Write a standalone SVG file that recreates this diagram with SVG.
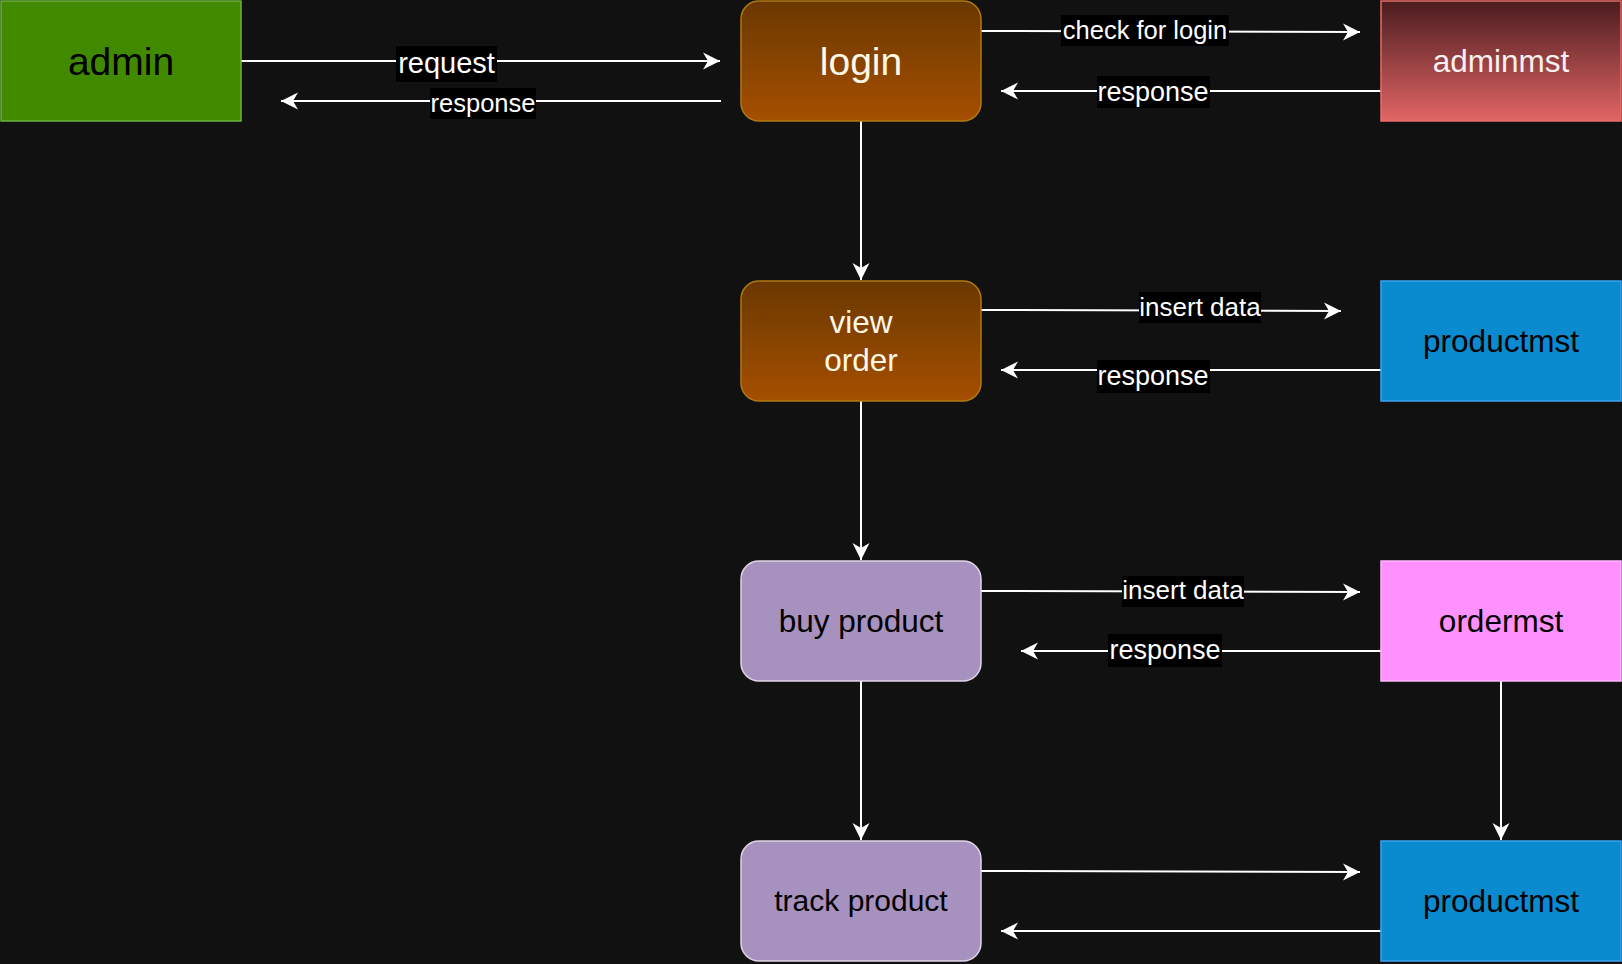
<svg xmlns="http://www.w3.org/2000/svg" width="1622" height="964" viewBox="0 0 1622 964">
<defs>
<linearGradient id="gBrown" x1="0" y1="0" x2="0" y2="1"><stop offset="0" stop-color="#6A3800"/><stop offset="1" stop-color="#A64F00"/></linearGradient>
<linearGradient id="gRed" x1="0" y1="0" x2="0" y2="1"><stop offset="0" stop-color="#4A1C1F"/><stop offset="1" stop-color="#E26565"/></linearGradient>
<marker id="arr" markerUnits="userSpaceOnUse" viewBox="-18 -10 20 20" refX="0" refY="0" markerWidth="20" markerHeight="20" orient="auto" overflow="visible">
<path d="M0,0 L-17,-8.5 L-12,0 L-17,8.5 Z" fill="#ffffff"/>
</marker>
<style>
.t{font-family:"Liberation Sans",Arial,sans-serif;text-anchor:middle}
.e{fill:none;stroke:#ffffff;stroke-width:2;marker-end:url(#arr)}
.lb{fill:#000000}
.lt{fill:#ffffff}
.brown{fill:url(#gBrown);stroke:#B07A10;stroke-width:1.5}
.lilac{fill:#A791BE;stroke:#E1D5E7;stroke-width:1.5}
.blue{fill:#0A8BCF;stroke:#3BA4F0;stroke-width:1.5}
</style>
</defs>
<rect x="0" y="0" width="1622" height="964" fill="#111111"/>

<g id="connectors">
<path class="e" d="M241,61 L720,61"/>
<path class="e" d="M721,101 L281,101"/>
<path class="e" d="M981,31 L1360,32"/>
<path class="e" d="M1381,91 L1001,91"/>
<path class="e" d="M861,121 L861,280"/>
<path class="e" d="M981,310 L1341,311"/>
<path class="e" d="M1381,370 L1001,370"/>
<path class="e" d="M861,401 L861,560"/>
<path class="e" d="M981,591 L1360,592"/>
<path class="e" d="M1381,651 L1021,651"/>
<path class="e" d="M861,681 L861,840"/>
<path class="e" d="M1501,681 L1501,840"/>
<path class="e" d="M981,871 L1360,872"/>
<path class="e" d="M1381,931 L1001,931"/>

<g id="labels">
<rect class="lb" x="396" y="46" width="101" height="36"/>
<text class="t lt" x="446.5" y="73" font-size="29">request</text>
<rect class="lb" x="430" y="88" width="106" height="31"/>
<text class="t lt" x="483" y="112" font-size="25.5">response</text>
<rect class="lb" x="1061" y="15" width="168" height="31"/>
<text class="t lt" x="1145" y="39" font-size="25.5">check for login</text>
<rect class="lb" x="1097" y="76" width="113" height="32"/>
<text class="t lt" x="1153" y="101" font-size="27">response</text>
<rect class="lb" x="1139" y="292" width="122" height="31"/>
<text class="t lt" x="1200" y="316" font-size="26">insert data</text>
<rect class="lb" x="1097" y="360" width="113" height="33"/>
<text class="t lt" x="1153" y="385" font-size="27">response</text>
<rect class="lb" x="1122" y="576" width="122" height="31"/>
<text class="t lt" x="1183" y="599" font-size="26">insert data</text>
<rect class="lb" x="1108" y="634" width="114" height="33"/>
<text class="t lt" x="1165" y="659" font-size="27">response</text>
</g>
</g>

<g id="admin">
<rect x="1" y="1" width="240" height="120" fill="#418A00" stroke="#6CB33E" stroke-width="1.5"/>
<text class="t" x="121" y="75" font-size="39" fill="#000000">admin</text>
</g>
<g id="login">
<rect class="brown" x="741" y="1" width="240" height="120" rx="18" ry="18"/>
<text class="t" x="861" y="75" font-size="39" fill="#FFF8E6">login</text>
</g>
<g id="adminmst">
<rect x="1381" y="1" width="240" height="120" fill="url(#gRed)" stroke="#EA6B66" stroke-width="1.5"/>
<text class="t" x="1501" y="72" font-size="31.5" fill="#F8F0F0">adminmst</text>
</g>
<g id="view-order">
<rect class="brown" x="741" y="281" width="240" height="120" rx="18" ry="18"/>
<text class="t" x="861" y="333" font-size="31.5" fill="#FFF8E6">view</text>
<text class="t" x="861" y="371" font-size="31.5" fill="#FFF8E6">order</text>
</g>
<g id="productmst-1">
<rect class="blue" x="1381" y="281" width="240" height="120"/>
<text class="t" x="1501" y="352" font-size="31.5" fill="#000000">productmst</text>
</g>
<g id="buy-product">
<rect class="lilac" x="741" y="561" width="240" height="120" rx="18" ry="18"/>
<text class="t" x="861" y="632" font-size="31.5" fill="#000000">buy product</text>
</g>
<g id="ordermst">
<rect x="1381" y="561" width="240" height="120" fill="#FF91FF" stroke="#FFB8FF" stroke-width="1.5"/>
<text class="t" x="1501" y="632" font-size="31.5" fill="#000000">ordermst</text>
</g>
<g id="track-product">
<rect class="lilac" x="741" y="841" width="240" height="120" rx="18" ry="18"/>
<text class="t" x="861" y="911" font-size="30" fill="#000000">track product</text>
</g>
<g id="productmst-2">
<rect class="blue" x="1381" y="841" width="240" height="120"/>
<text class="t" x="1501" y="912" font-size="31.5" fill="#000000">productmst</text>
</g>
</svg>
